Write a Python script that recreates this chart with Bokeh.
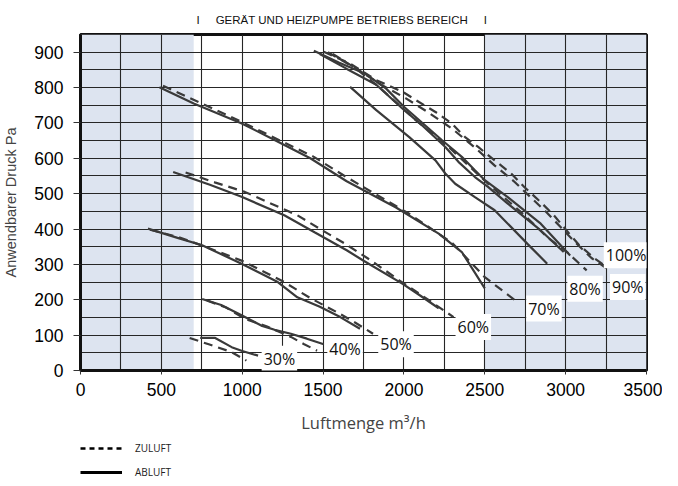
from bokeh.plotting import figure
from bokeh.layouts import column
from bokeh.models import Range1d, SingleIntervalTicker, BoxAnnotation, Label, Legend, LegendItem
from bokeh.embed import file_html
from bokeh.resources import INLINE

# ---- data ----
ab30_x = [740, 833, 935, 1000, 1098]
ab30_y = [92, 92, 66, 55, 42]
zu30_x = [675, 793, 935, 1026]
zu30_y = [92, 74, 52, 28]

ab40_x = [752, 870, 996, 1118, 1200, 1301, 1400, 1504]
ab40_y = [202, 185, 156, 127, 115, 104, 90, 74]
zu40_x = [782, 900, 1016, 1150, 1301, 1380, 1463]
zu40_y = [198, 178, 146, 125, 95, 75, 56]

ab50_x = [417, 600, 752, 996, 1220, 1341, 1480, 1606, 1728]
ab50_y = [401, 375, 354, 302, 250, 207, 180, 151, 118]
zu50_x = [430, 600, 760, 1000, 1260, 1420, 1585, 1700, 1809]
zu50_y = [398, 378, 352, 310, 250, 205, 165, 135, 104]

ab60_x = [573, 800, 996, 1260, 1450, 1646, 1748, 1992, 2100, 2215]
ab60_y = [561, 525, 491, 439, 390, 340, 311, 245, 212, 176]
zu60_x = [650, 830, 1016, 1341, 1500, 1634, 1800, 1971, 2150, 2307]
zu60_y = [560, 532, 505, 439, 395, 359, 310, 255, 200, 151]

ab70_x = [488, 700, 994, 1200, 1421, 1646, 1951, 2215, 2358, 2500]
ab70_y = [801, 755, 699, 652, 600, 535, 461, 387, 335, 232]
zu70_x = [510, 750, 996, 1443, 1626, 1800, 2033, 2300, 2500, 2703]
zu70_y = [805, 755, 703, 604, 552, 505, 443, 360, 264, 193]

ab80_x = [1667, 1829, 2033, 2195, 2256, 2317, 2439, 2561, 2764, 2886]
ab80_y = [802, 736, 660, 594, 557, 528, 490, 453, 358, 302]
zu80_x = [1560, 1700, 1850, 2073, 2276, 2520, 2724, 2886, 3008, 3130]
zu80_y = [895, 855, 800, 708, 632, 528, 448, 377, 335, 283]

ab90_x = [1480, 1650, 1829, 1992, 2120, 2256, 2337, 2439, 2520, 2642, 2846, 2988]
ab90_y = [895, 852, 808, 740, 690, 632, 590, 547, 519, 472, 396, 335]
zu90_x = [1530, 1700, 1860, 2010, 2150, 2300, 2440, 2560, 2680, 2790, 2880, 2970, 3060, 3160, 3272]
zu90_y = [900, 855, 808, 770, 730, 683, 630, 580, 535, 487, 448, 405, 362, 318, 283]

ab100_x = [1443, 1600, 1758, 1890, 2002, 2236, 2358, 2439, 2500, 2642, 2846, 3028]
ab100_y = [904, 870, 840, 797, 745, 651, 604, 566, 538, 490, 415, 325]
zu100_x = [1504, 1667, 1829, 1992, 2093, 2195, 2297, 2378, 2459, 2561, 2663, 2744, 2846, 2927, 2998, 3079, 3181, 3232]
zu100_y = [901, 868, 821, 788, 759, 731, 698, 660, 632, 594, 557, 519, 476, 439, 400, 357, 316, 300]

pct_text = ["30%", "40%", "50%", "60%", "70%", "80%", "90%", "100%"]
pct_x = [1230, 1636, 1951, 2429, 2866, 3120, 3384, 3374]
pct_y = [33, 61, 74, 123, 175, 231, 236, 326]

x_ticks_step = 500
y_ticks_step = 100

ablufts = [(ab30_x, ab30_y), (ab40_x, ab40_y), (ab50_x, ab50_y), (ab60_x, ab60_y),
           (ab70_x, ab70_y), (ab80_x, ab80_y), (ab90_x, ab90_y), (ab100_x, ab100_y)]
zuluftes = [(zu30_x, zu30_y), (zu40_x, zu40_y), (zu50_x, zu50_y), (zu60_x, zu60_y),
            (zu70_x, zu70_y), (zu80_x, zu80_y), (zu90_x, zu90_y), (zu100_x, zu100_y)]

sp = "\u00a0" * 5
p = figure(width=662, height=438, x_range=Range1d(0, 3500), y_range=Range1d(0, 950),
           output_backend="svg", toolbar_location=None,
           min_border_left=72, min_border_right=16, min_border_top=34, min_border_bottom=68,
           title="I" + sp + "GERÄT UND HEIZPUMPE BETRIEBS BEREICH" + sp + "I")

p.title.text_font = "Liberation Sans"
p.title.text_font_size = "11.5px"
p.title.text_font_style = "normal"
p.title.align = "left"
p.title.offset = 116
p.title.standoff = 18
p.title.text_color = "#111111"

p.background_fill_color = "white"
p.border_fill_color = "white"
p.outline_line_color = "#111111"
p.outline_line_width = 3

# shaded regions
shade = "#dde4f0"
p.add_layout(BoxAnnotation(left=0, right=700, bottom=0, top=950, fill_color=shade, fill_alpha=1,
                           line_color=None, level="image"))
p.add_layout(BoxAnnotation(left=2500, right=3500, bottom=0, top=950, fill_color=shade, fill_alpha=1,
                           line_color=None, level="image"))

# axes
p.xaxis.ticker = SingleIntervalTicker(interval=x_ticks_step)
p.yaxis.ticker = SingleIntervalTicker(interval=y_ticks_step)
p.xgrid.ticker = SingleIntervalTicker(interval=250)
p.ygrid.ticker = SingleIntervalTicker(interval=50)
for g in (p.xgrid, p.ygrid):
    g.grid_line_color = "#262626"
    g.grid_line_width = 1.1

for ax in (p.xaxis, p.yaxis):
    ax.axis_line_color = "#111111"
    ax.axis_line_width = 3
    ax.major_tick_line_color = "#333333"
    ax.major_tick_line_width = 1
    ax.major_tick_in = 0
    ax.minor_tick_line_color = None
    ax.major_label_text_font = "Liberation Sans"
    ax.major_label_text_font_size = "17.5px"
    ax.major_label_text_color = "black"
p.xaxis.major_tick_out = 4
p.xaxis.major_label_standoff = 8
p.yaxis.major_tick_out = 7
p.yaxis.major_label_standoff = 10

p.xaxis.axis_label = "Luftmenge m³/h"
p.xaxis.axis_label_text_font = "Open Sans"
p.xaxis.axis_label_text_font_size = "16.5px"
p.xaxis.axis_label_text_font_style = "normal"
p.xaxis.axis_label_standoff = 12
p.yaxis.axis_label = "Anwendbarer Druck Pa"
p.yaxis.axis_label_text_font = "Liberation Sans"
p.yaxis.axis_label_text_font_size = "14.5px"
p.yaxis.axis_label_text_font_style = "normal"
p.yaxis.axis_label_standoff = 12

line_col = "#3a3a3a"
for xs, ys in ablufts:
    p.line(xs, ys, line_color=line_col, line_width=2.2)
for xs, ys in zuluftes:
    p.line(xs, ys, line_color=line_col, line_width=2.2, line_dash="9 6")

for t, x, y in zip(pct_text, pct_x, pct_y):
    p.add_layout(Label(x=x, y=y, text=t, text_align="center", text_baseline="middle",
                       text_font="Open Sans", text_font_size="16px", text_color="#111111",
                       background_fill_color="white", background_fill_alpha=1, padding=2))

# legend strip below the chart (its sample lines use real series, kept outside its view)
lf = figure(width=662, height=40, x_range=Range1d(0, 1), y_range=Range1d(0, 1),
            output_backend="svg", toolbar_location=None, min_border=0,
            x_axis_location=None, y_axis_location=None, outline_line_color=None)
lf.grid.visible = False
lf.background_fill_color = "white"
lf.border_fill_color = "white"
r_z = lf.line(zu30_x, zu30_y, line_color="black", line_width=2.5, line_dash="5 4")
r_a = lf.line(ab30_x, ab30_y, line_color="black", line_width=3)
legend = Legend(items=[LegendItem(label="ZULUFT", renderers=[r_z]),
                       LegendItem(label="ABLUFT", renderers=[r_a])],
                location=(0, -1), orientation="vertical",
                glyph_width=42, glyph_height=14, label_height=14, spacing=10,
                padding=0, margin=0, label_standoff=13,
                border_line_color=None, background_fill_alpha=0,
                label_text_font="Open Sans", label_text_font_size="10px",
                label_text_color="#222222")
lf.add_layout(legend)

page = column(p, lf, spacing=0)
open("out.html", "w").write(file_html(page, INLINE))
